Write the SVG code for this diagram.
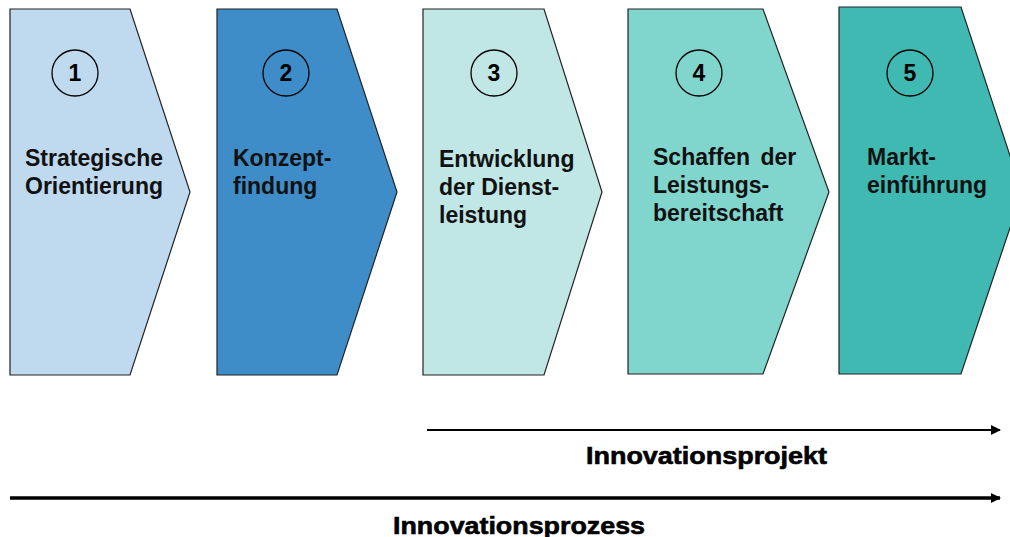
<svg xmlns="http://www.w3.org/2000/svg" width="1010" height="537" viewBox="0 0 1010 537">
<defs>
<style>
.shape{stroke:#222;stroke-width:1.2}
.num{fill:none;stroke:#000;stroke-width:1.3}
.nt{font-family:"Liberation Sans",Arial,sans-serif;font-weight:bold;font-size:23px;fill:#000;text-anchor:middle}
.lbl{font-family:"Liberation Sans",Arial,sans-serif;font-weight:bold;font-size:23px;fill:#111}
.big{font-family:"Liberation Sans",Arial,sans-serif;font-weight:bold;font-size:24px;fill:#000;stroke:#000;stroke-width:0.6}
.conn{stroke:#000;fill:none}
</style>
<marker id="ah" viewBox="0 0 10 10" refX="9" refY="5" markerWidth="10" markerHeight="10" markerUnits="userSpaceOnUse" orient="auto">
<path d="M0,0 L10,5 L0,10 Z" fill="#000"/>
</marker>
</defs>
<rect width="1010" height="537" fill="#fff"/>
<g id="node1">
<polygon class="shape" points="10,9 130,9 190,192 130,375 10,375" fill="#BFD9EF"/>
<circle class="num" cx="75" cy="73" r="23"/>
<text class="nt" x="75" y="81">1</text>
<text class="lbl" x="25" y="166">Strategische</text>
<text class="lbl" x="25" y="194">Orientierung</text>
</g>
<g id="node2">
<polygon class="shape" points="217,9 337,9 397,192 337,375 217,375" fill="#3E8DC9"/>
<circle class="num" cx="286" cy="73" r="23"/>
<text class="nt" x="286" y="81">2</text>
<text class="lbl" x="233" y="166">Konzept-</text>
<text class="lbl" x="233" y="194">findung</text>
</g>
<g id="node3">
<polygon class="shape" points="423,9 544,9 602,192 544,375 423,375" fill="#C0E7E5"/>
<circle class="num" cx="494" cy="73" r="23"/>
<text class="nt" x="494" y="81">3</text>
<text class="lbl" x="439" y="167">Entwicklung</text>
<text class="lbl" x="439" y="195">der Dienst-</text>
<text class="lbl" x="439" y="223">leistung</text>
</g>
<g id="node4">
<polygon class="shape" points="628,9 763,9 829,192 763,374 628,374" fill="#80D5CC"/>
<circle class="num" cx="699" cy="73" r="23"/>
<text class="nt" x="699" y="81">4</text>
<text class="lbl" x="653" y="165" word-spacing="4">Schaffen der</text>
<text class="lbl" x="653" y="193">Leistungs-</text>
<text class="lbl" x="653" y="221">bereitschaft</text>
</g>
<g id="node5">
<polygon class="shape" points="839,7 961,7 1022,192 961,374 839,374" fill="#40B9B2"/>
<circle class="num" cx="910" cy="73" r="23"/>
<text class="nt" x="910" y="81">5</text>
<text class="lbl" x="867" y="165">Markt-</text>
<text class="lbl" x="867" y="193">einführung</text>
</g>
<g id="connectors">
<line class="conn" x1="427" y1="430" x2="1000" y2="430" stroke-width="2.2" marker-end="url(#ah)"/>
<line class="conn" x1="10" y1="498" x2="1000" y2="498" stroke-width="3.6" marker-end="url(#ah)"/>
</g>
<text class="big" x="586" y="464" textLength="241" lengthAdjust="spacingAndGlyphs">Innovationsprojekt</text>
<text class="big" x="393" y="534" textLength="252" lengthAdjust="spacingAndGlyphs">Innovationsprozess</text>
</svg>
